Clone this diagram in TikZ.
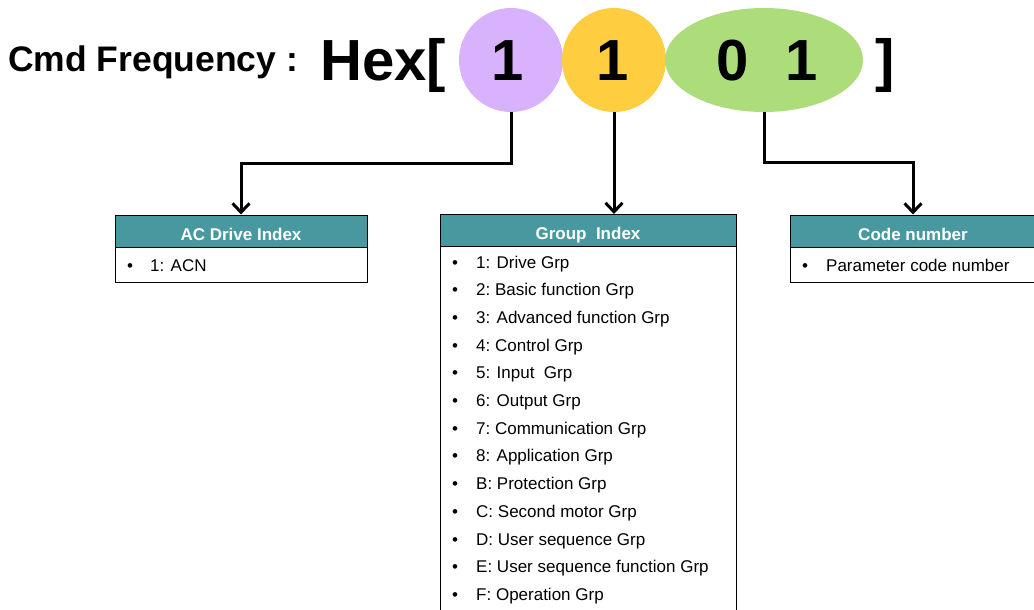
\documentclass[tikz,border=0pt]{standalone}
\usepackage{fontspec}
\setmainfont{Liberation Sans}
\usetikzlibrary{arrows.meta,shapes.geometric}
\definecolor{cpurple}{RGB}{216,178,252}
\definecolor{corange}{RGB}{255,205,64}
\definecolor{cgreen}{RGB}{173,220,123}
\definecolor{cteal}{RGB}{72,153,159}
\tikzset{
  big/.style={font=\bfseries\fontsize{58}{60}\selectfont, inner sep=0},
  hdr/.style={draw=black, line width=1pt, fill=cteal, text=white, font=\bfseries\fontsize{17}{20}\selectfont, minimum height=32pt, inner sep=0, text height=18pt, text depth=0pt},
  bodybox/.style={draw=black, line width=1pt, fill=white, inner sep=0},
  item/.style={font=\fontsize{17}{20}\selectfont, anchor=base west, inner sep=0},
  bul/.style={font=\fontsize{17}{20}\selectfont, anchor=base, inner sep=0},
  conn/.style={line width=3pt, -{Straight Barb[length=9pt,width=17pt,line width=3pt]}}
}
\begin{document}
\begin{tikzpicture}[x=1pt,y=-1pt]
\useasboundingbox (0,0) rectangle (1034,610);
\clip (0,0) rectangle (1034,610);
% title
\node[font=\bfseries\fontsize{35.5}{38}\selectfont, anchor=base west, inner sep=0] (cmd) at (8,72) {Cmd Frequency :};
\node[big, anchor=base west] (hex) at (320,81) {Hex[};
\node[circle, fill=cpurple, minimum size=104pt, inner sep=0] (p) at (511,60) {};
\node[circle, fill=corange, minimum size=104pt, inner sep=0] (o) at (614,60) {};
\node[ellipse, fill=cgreen, minimum width=198pt, minimum height=104pt, inner sep=0] (g) at (764,60) {};
\node[big, anchor=base] (d1) at (508,81) {1};
\node[big, anchor=base] (d2) at (613,81) {1};
\node[big, anchor=base] (d3) at (733,81) {0};
\node[big, anchor=base] (d4) at (802,81) {1};
\node[big, anchor=base west] (rb) at (875,81) {]};
% boxes
\node[bodybox, minimum width=252pt, minimum height=35pt] (acB) at (241,264.5) {};
\node[hdr, minimum width=252pt] (acH) at (241,231) {AC Drive Index};
\node[bul] (acb1) at (130,271) {\textbullet};
\node[item] (aci1) at (150,271) {1: ACN};

\node[bodybox, minimum width=296pt, minimum height=404pt] (grB) at (588,448) {};
\node[hdr, minimum width=296pt] (grH) at (588,230.5) {Group\ \ Index};

\node[bodybox, minimum width=246pt, minimum height=35pt] (cdB) at (913,264.5) {};
\node[hdr, minimum width=246pt] (cdH) at (913,231) {Code number};
\node[bul] (cdb1) at (805,271) {\textbullet};
\node[item] (cdi1) at (826,271) {Parameter code number};

\foreach \t [count=\i] in {1: Drive Grp,2:\ Basic function Grp,3: Advanced function Grp,4:\ Control Grp,5: Input\ \ Grp,6: Output Grp,7:\ Communication Grp,8: Application Grp,B: Protection Grp,C: Second motor Grp,D:\ User sequence Grp,E: User sequence function Grp,F: Operation Grp}{
  \node[bul] (gb\i) at (455,{268+27.7*(\i-1)}) {\textbullet};
  \node[item] (gi\i) at (476,{268+27.7*(\i-1)}) {\t};
}
% connectors
\draw[conn] (p.south) -- ++(0,51) -| (acH.north);
\draw[conn] (o.south) -- (o.south |- grH.north);
\draw[conn] (g.south) -- ++(0,50) -| (cdH.north);
\end{tikzpicture}
\end{document}
